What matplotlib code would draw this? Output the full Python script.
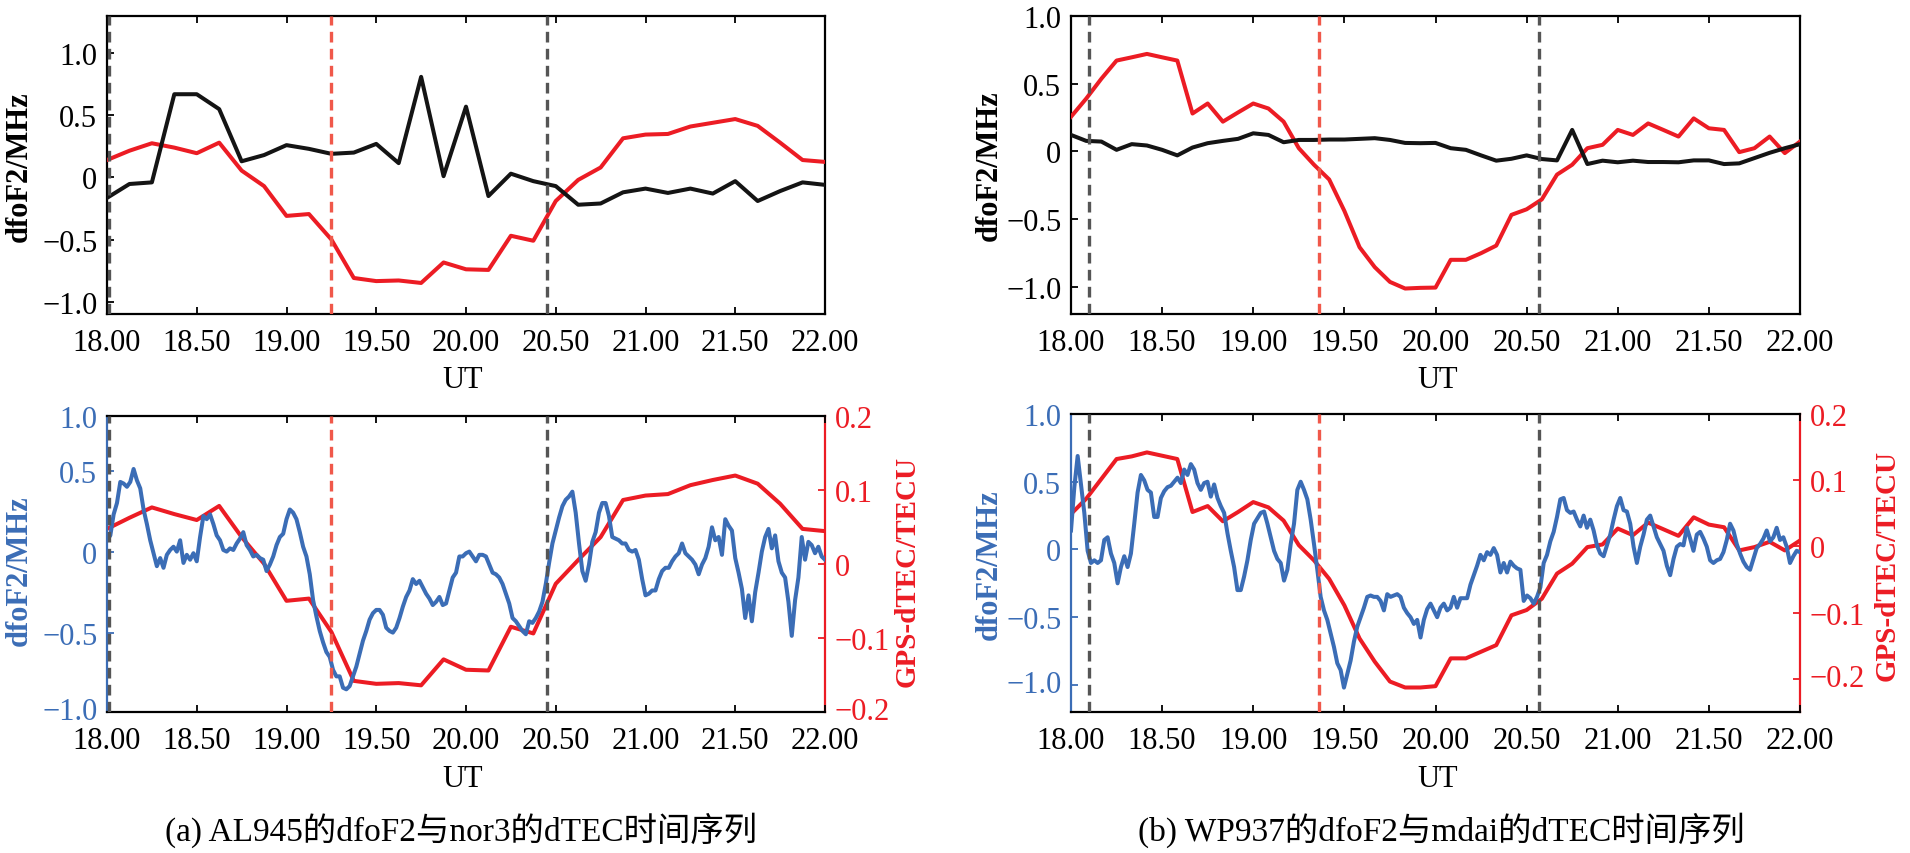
import numpy as np
import matplotlib
matplotlib.use('Agg')
import matplotlib.pyplot as plt
from matplotlib.transforms import ScaledTranslation

plt.rcParams['font.family'] = ['Liberation Serif', 'Noto Sans CJK SC']

# ---- data ----
# (a) AL945 / nor3, 7.5 min samples
a_fof2 = [-0.165, -0.053, -0.04, 0.67, 0.67, 0.55, 0.13, 0.18, 0.26, 0.23, 0.19,
          0.20, 0.27, 0.115, 0.81, 0.01, 0.57, -0.15, 0.03, -0.03, -0.07, -0.22,
          -0.21, -0.12, -0.09, -0.125, -0.09, -0.13, -0.03, -0.19, -0.11, -0.04, -0.06]
a_tec_scaled = [0.14, 0.215, 0.275, 0.24, 0.195, 0.28, 0.055, -0.07, -0.31, -0.295,
                -0.50, -0.81, -0.835, -0.83, -0.85, -0.685, -0.74, -0.745, -0.47,
                -0.51, -0.19, -0.02, 0.08, 0.315, 0.345, 0.35, 0.41, 0.44, 0.47,
                0.415, 0.28, 0.14, 0.125]
a_dtec = [0.047, 0.062, 0.076, 0.067, 0.059, 0.078, 0.036, 0.0, -0.05, -0.047,
          -0.092, -0.158, -0.162, -0.161, -0.164, -0.129, -0.143, -0.144, -0.085,
          -0.094, -0.027, 0.005, 0.036, 0.086, 0.092, 0.094, 0.106, 0.113, 0.119,
          0.108, 0.081, 0.047, 0.044]
a_dfof2_fine = [
    0.07, 0.10, 0.23, 0.30, 0.43, 0.42, 0.40, 0.43, 0.51, 0.44,
    0.39, 0.26, 0.17, 0.07, -0.01, -0.09, -0.04, -0.10, -0.02, 0.01,
    0.03, 0.00, 0.07, -0.07, -0.02, -0.05, -0.01, -0.06, 0.09, 0.22,
    0.20, 0.23, 0.17, 0.10, 0.07, 0.01, 0.00, 0.02, 0.01, 0.05,
    0.08, 0.12, 0.04, 0.01, -0.03, -0.02, -0.04, -0.05, -0.12, -0.08,
    -0.03, 0.04, 0.09, 0.11, 0.20, 0.26, 0.24, 0.20, 0.12, 0.03,
    -0.03, -0.14, -0.30, -0.40, -0.49, -0.56, -0.62, -0.65, -0.73, -0.77,
    -0.77, -0.84, -0.85, -0.83, -0.77, -0.71, -0.63, -0.55, -0.49, -0.42,
    -0.38, -0.36, -0.36, -0.39, -0.47, -0.49, -0.50, -0.47, -0.41, -0.34,
    -0.28, -0.24, -0.17, -0.20, -0.18, -0.22, -0.26, -0.29, -0.33, -0.31,
    -0.28, -0.33, -0.32, -0.24, -0.16, -0.13, -0.03,
    -0.03, -0.01, 0.00, -0.03, -0.06, -0.02, -0.02, -0.03, -0.08, -0.13,
    -0.14, -0.16, -0.20, -0.26, -0.32, -0.41, -0.43, -0.46, -0.49, -0.51,
    -0.43, -0.44, -0.41, -0.37, -0.31, -0.20, -0.07, 0.05, 0.13, 0.21,
    0.28, 0.32, 0.34, 0.37, 0.24, 0.05, -0.12, -0.18, -0.08, 0.06,
    0.12, 0.24, 0.30, 0.30, 0.22, 0.09, 0.08, 0.07, 0.05, 0.05,
    0.01, 0.00, 0.01, -0.05, -0.17, -0.27, -0.26, -0.24, -0.24, -0.17,
    -0.12, -0.10, -0.10, -0.06, -0.03, -0.01, 0.05, -0.01, -0.03, -0.05,
    -0.08, -0.14, -0.08, -0.04, 0.03, 0.15, 0.07, 0.09, -0.02, 0.20,
    0.16, 0.13, -0.04, -0.13, -0.23, -0.41, -0.27, -0.43, -0.25, -0.13,
    0.00, 0.09, 0.14, 0.02, 0.10, -0.06, -0.13, -0.16, -0.31, -0.52,
    -0.30, -0.16, 0.09, -0.05, 0.06, 0.04, -0.01, 0.03, -0.03, -0.05]

# (b) WP937 / mdai, 5 min samples
b_fof2 = [0.122, 0.078, 0.073, 0.012, 0.054, 0.044, 0.012, -0.029, 0.029, 0.061,
          0.078, 0.093, 0.134, 0.122, 0.068, 0.085, 0.085, 0.088, 0.088, 0.093,
          0.098, 0.085, 0.063, 0.061, 0.063, 0.024, 0.012, -0.029, -0.068, -0.054,
          -0.029, -0.056, -0.066, 0.159, -0.093, -0.068, -0.080, -0.068, -0.078,
          -0.078, -0.080, -0.066, -0.066, -0.093, -0.088, -0.049, -0.010, 0.024, 0.054]
b_tec_scaled = [0.256, 0.390, 0.537, 0.671, 0.695, 0.720, 0.695, 0.671, 0.280, 0.354,
                0.220, 0.288, 0.354, 0.317, 0.220, 0.024, -0.098, -0.207, -0.439,
                -0.707, -0.854, -0.963, -1.012, -1.007, -1.005, -0.800, -0.800,
                -0.751, -0.695, -0.468, -0.427, -0.354, -0.171, -0.098, 0.024,
                0.049, 0.159, 0.122, 0.207, 0.159, 0.110, 0.244, 0.171, 0.159,
                -0.005, 0.024, 0.110, -0.012, 0.073]
b_dtec = [0.049, 0.072, 0.102, 0.132, 0.136, 0.142, 0.137, 0.132, 0.052, 0.061,
          0.038, 0.052, 0.067, 0.059, 0.039, 0.002, -0.021, -0.049, -0.089, -0.139,
          -0.174, -0.204, -0.213, -0.213, -0.211, -0.169, -0.169, -0.159, -0.149,
          -0.104, -0.096, -0.079, -0.041, -0.026, -0.001, 0.003, 0.027, 0.017,
          0.036, 0.026, 0.016, 0.044, 0.033, 0.029, -0.006, -0.001, 0.007,
          -0.006, 0.009]
b_dfof2_fine = [
    0.14, 0.46, 0.69, 0.48, 0.27, -0.01, -0.10, -0.08, -0.10, -0.08,
    0.07, 0.09, -0.03, -0.10, -0.25, -0.13, -0.05, -0.13, -0.03, 0.19,
    0.42, 0.55, 0.51, 0.44, 0.42, 0.24, 0.24, 0.38, 0.43, 0.46,
    0.47, 0.50, 0.53, 0.49, 0.59, 0.55, 0.63, 0.59, 0.49, 0.44,
    0.49, 0.50, 0.39, 0.48, 0.38, 0.32, 0.27, 0.12, -0.01, -0.13,
    -0.30, -0.30, -0.20, -0.08, 0.07, 0.19, 0.23, 0.27, 0.28, 0.19,
    0.09, -0.01, -0.07, -0.10, -0.23, -0.15, 0.04, 0.19, 0.44, 0.50,
    0.44, 0.37, 0.22, 0.04, -0.15, -0.35, -0.45, -0.52, -0.62, -0.72,
    -0.84, -0.89, -1.02, -0.92, -0.82, -0.68, -0.57, -0.50, -0.43, -0.35,
    -0.34, -0.35, -0.35, -0.38, -0.45, -0.33, -0.35, -0.34, -0.33, -0.35,
    -0.43, -0.47, -0.50, -0.55, -0.52, -0.65, -0.52, -0.44, -0.40, -0.45,
    -0.50,
    -0.43, -0.40, -0.45, -0.43, -0.35, -0.43, -0.36, -0.36, -0.36, -0.26,
    -0.19, -0.12, -0.04, -0.08, -0.02, -0.04, 0.01, -0.04, -0.17, -0.10,
    -0.17, -0.09, -0.12, -0.14, -0.15, -0.38, -0.34, -0.36, -0.40, -0.35,
    -0.28, -0.10, -0.04, 0.06, 0.13, 0.24, 0.37, 0.38, 0.29, 0.27,
    0.28, 0.22, 0.17, 0.25, 0.16, 0.22, 0.14, 0.03, -0.03, -0.05,
    0.03, 0.11, 0.22, 0.32, 0.38, 0.29, 0.28, 0.19, 0.02, -0.10,
    0.02, 0.11, 0.22, 0.25, 0.17, 0.09, 0.04, -0.01, -0.12, -0.19,
    -0.07, 0.02, 0.04, 0.03, 0.16, 0.08, -0.01, 0.11, 0.13, 0.08,
    0.02, -0.08, -0.10, -0.08, -0.07, -0.02, 0.07, 0.19, 0.14, 0.04,
    -0.03, -0.09, -0.13, -0.15, -0.07, 0.01, 0.04, 0.08, 0.14, 0.06,
    0.09, 0.16, 0.07, 0.09, 0.02, -0.10, -0.05, -0.01, -0.02]

a_events = [18.01, 19.25, 20.45]
b_events = [18.10, 19.36, 20.57]
event_kind = ['k', 'r', 'k']

xticks = [18.0, 18.5, 19.0, 19.5, 20.0, 20.5, 21.0, 21.5, 22.0]
xticklabels = ['%.2f' % v for v in xticks]
yticklabels = ['\u22121.0', '\u22120.5', '0', '0.5', '1.0']
tec_labels = ['\u22120.2', '\u22120.1', '0', '0.1', '0.2']
captions = ['(a) AL945的dfoF2与nor3的dTEC时间序列',
            '(b) WP937的dfoF2与mdai的dTEC时间序列']

# ---- styling ----
RED = '#ec1c24'
BLUE = '#3b6db6'
BLACK = '#141414'
DASH_K = '#555555'
DASH_R = '#f0584a'
W, H = 1910, 854
FS = 22
LW = 2.9

fig = plt.figure(figsize=(W / 100, H / 100), dpi=100)


def px_axes(l, t, r, b):
    return fig.add_axes([l / W, 1 - b / H, (r - l) / W, (b - t) / H])


def px_text(x, y, s, **kw):
    fig.text(x / W, 1 - y / H, s, ha='center', va='center', **kw)


def base_style(ax):
    ax.set_xlim(18, 22)
    ax.set_xticks(xticks)
    ax.set_xticklabels(xticklabels)
    ax.tick_params(axis='x', direction='in', length=5, width=1.3, top=True,
                   labelsize=FS, pad=10)
    for s in ax.spines.values():
        s.set_linewidth(1.6)


def events(ax, xs):
    for x, k in zip(xs, event_kind):
        ax.axvline(x, color=DASH_K if k == 'k' else DASH_R, lw=2.4,
                   ls=(0, (3.2, 1.9)), zorder=5)


def lift_bottom_label(ax):
    # nudge the lowest y tick label up a little so it clears the x labels
    lbl = ax.get_yticklabels()[0]
    lbl.set_transform(lbl.get_transform() +
                      ScaledTranslation(0, 3 / 72, fig.dpi_scale_trans))


def top_panel(ax, t1, y1, t2, y2, ylim, ev):
    ax.plot(t2, y2, color=RED, lw=LW, zorder=3)
    ax.plot(t1, y1, color=BLACK, lw=LW, zorder=4)
    events(ax, ev)
    base_style(ax)
    ax.set_ylim(*ylim)
    ax.set_yticks([-1.0, -0.5, 0, 0.5, 1.0])
    ax.set_yticklabels(yticklabels)
    ax.tick_params(axis='y', direction='in', length=5, width=1.3,
                   labelsize=FS, pad=7)


def bottom_panel(ax, tb, yb, blim, bticks, tt, yt, tlim, ev):
    ax2 = ax.twinx()
    ax.set_zorder(ax2.get_zorder() + 1)
    ax.patch.set_visible(False)
    ax2.plot(tt, yt, color=RED, lw=LW)
    ax.plot(tb, yb, color=BLUE, lw=LW, zorder=3)
    events(ax, ev)
    base_style(ax)
    ax.set_ylim(*blim)
    ax.set_yticks(bticks)
    ax.set_yticklabels(yticklabels)
    ax.tick_params(axis='y', direction='in', length=5, width=1.3, colors=BLUE,
                   labelsize=FS, pad=7)
    ax.spines['left'].set_color(BLUE)
    ax.spines['right'].set_visible(False)
    ax2.set_xlim(18, 22)
    ax2.set_ylim(*tlim)
    ax2.set_yticks([-0.2, -0.1, 0, 0.1, 0.2])
    ax2.set_yticklabels(tec_labels)
    ax2.tick_params(axis='y', direction='in', length=5, width=1.3, colors=RED,
                    labelsize=FS, pad=7)
    for side in ['left', 'top', 'bottom']:
        ax2.spines[side].set_visible(False)
    ax2.spines['right'].set_color(RED)
    ax2.spines['right'].set_linewidth(1.6)
    lift_bottom_label(ax)
    lift_bottom_label(ax2)


t_a = np.linspace(18, 22, len(a_fof2))
t_b = np.linspace(18, 22, len(b_fof2))
t_af = np.linspace(18, 22, len(a_dfof2_fine))
t_bf = np.linspace(18, 22, len(b_dfof2_fine))

ax_a1 = px_axes(107, 17, 825, 315)
ax_b1 = px_axes(1071, 17, 1800, 315)
ax_a2 = px_axes(107, 416.5, 825, 713)
ax_b2 = px_axes(1071, 415, 1800, 713)

top_panel(ax_a1, t_a, a_fof2, t_a, a_tec_scaled, (-1.1, 1.3), a_events)
top_panel(ax_b1, t_b, b_fof2, t_b, b_tec_scaled, (-1.2, 1.0), b_events)
bottom_panel(ax_a2, t_af, a_dfof2_fine, (-0.99, 0.84), [-0.99, -0.5, 0, 0.5, 0.84],
             t_a, a_dtec, (-0.2, 0.2), a_events)
bottom_panel(ax_b2, t_bf, b_dfof2_fine, (-1.2, 1.0), [-1.0, -0.5, 0, 0.5, 1.0],
             t_b, b_dtec, (-0.25, 0.2), b_events)

# axis titles
lab = dict(fontsize=22, fontweight='bold', rotation=90)
px_text(19, 167, 'dfoF2/MHz', color='black', **lab)
px_text(989, 166, 'dfoF2/MHz', color='black', **lab)
px_text(19, 571, 'dfoF2/MHz', color=BLUE, **lab)
px_text(989, 565, 'dfoF2/MHz', color=BLUE, **lab)
lab['fontsize'] = 21
px_text(907, 571, 'GPS-dTEC/TECU', color=RED, **lab)
px_text(1887, 565, 'GPS-dTEC/TECU', color=RED, **lab)
for x in (463, 1438):
    px_text(x, 380, 'UT', fontsize=FS)
    px_text(x, 780, 'UT', fontsize=FS)
px_text(461, 830, captions[0], fontsize=24)
px_text(1441, 830, captions[1], fontsize=24)

fig.savefig('out.png', dpi=100)
